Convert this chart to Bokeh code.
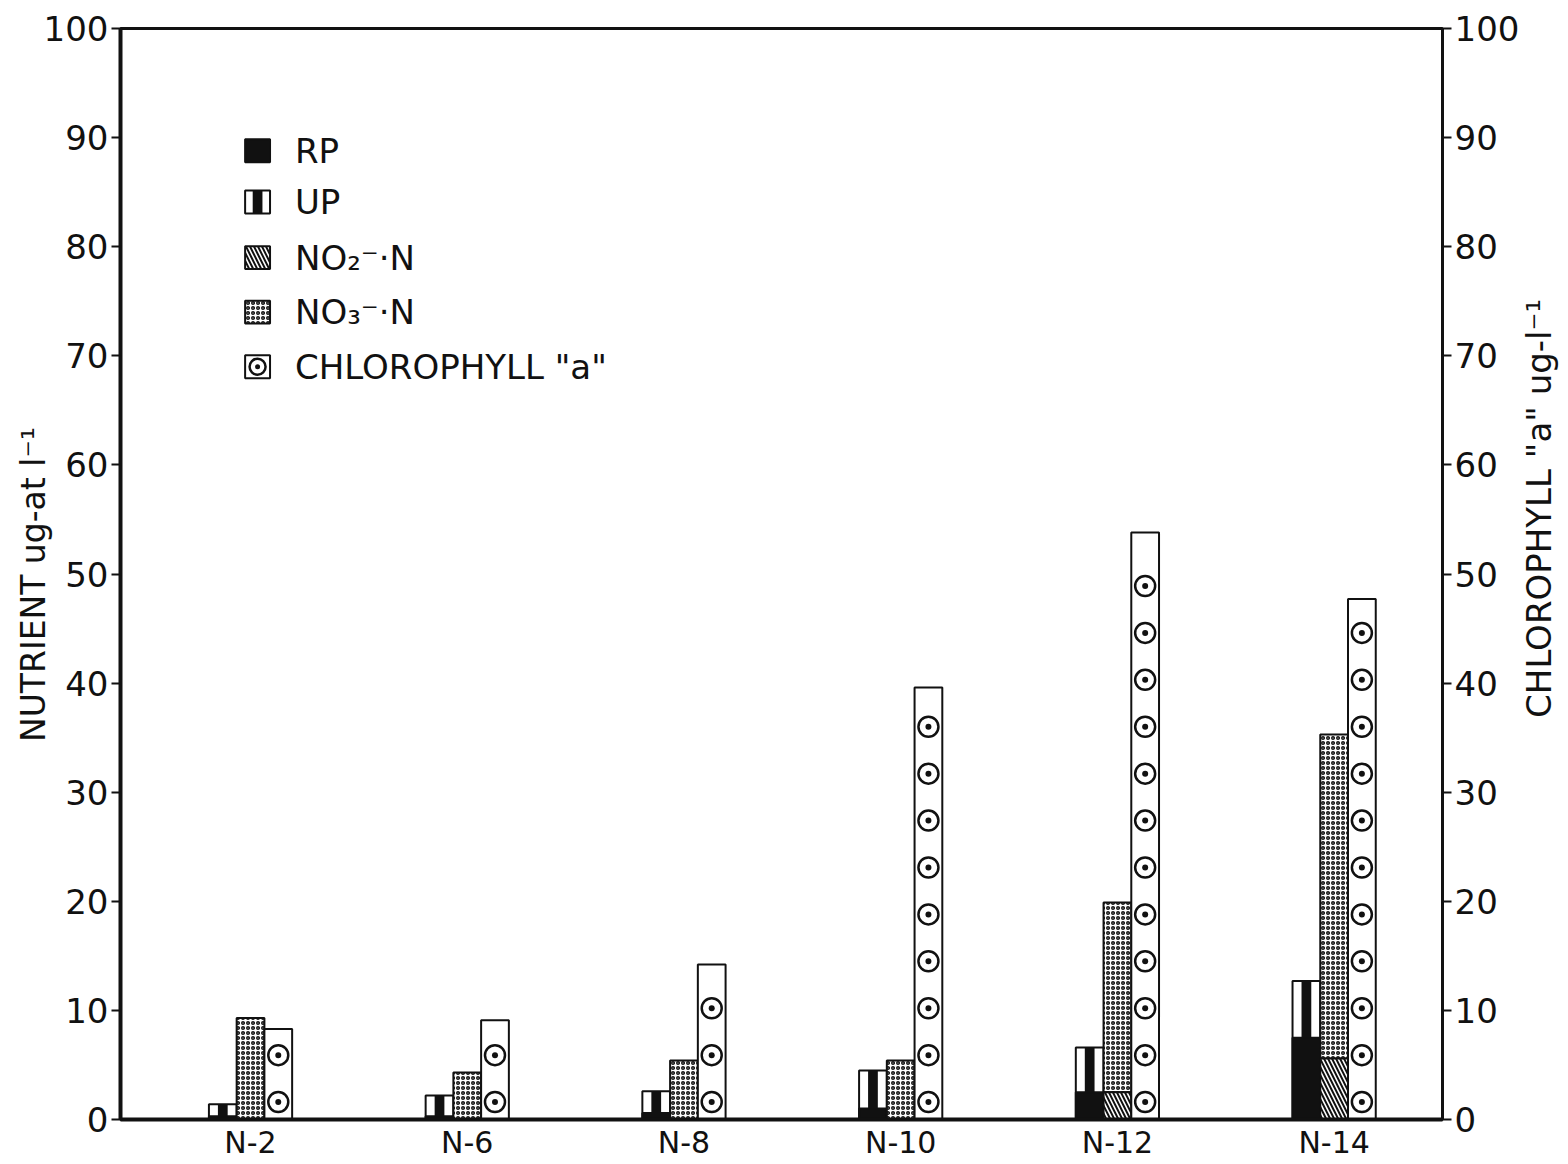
import math
from bokeh.plotting import figure
from bokeh.models import Range1d, LinearAxis, FixedTicker, Label
from bokeh.core.properties import value
from bokeh.embed import file_html
from bokeh.resources import INLINE

# ---------------- data ----------------
stations = ["N-2", "N-6", "N-8", "N-10", "N-12", "N-14"]
rp = [0.3, 0.3, 0.6, 1.0, 2.5, 7.5]          # reactive phosphorus (black, bottom of P bar)
up = [1.1, 1.9, 2.0, 3.5, 4.1, 5.2]          # unreactive phosphorus (striped, on top of RP)
no2 = [0.0, 0.0, 0.0, 0.0, 2.5, 5.6]         # NO2-N (hatched, bottom of N bar)
no3 = [9.3, 4.3, 5.4, 5.4, 17.4, 29.7]       # NO3-N (stippled, on top of NO2)
chl = [8.3, 9.1, 14.2, 39.6, 53.8, 47.7]     # chlorophyll "a" (right axis)
y_ticks = [0, 10, 20, 30, 40, 50, 60, 70, 80, 90, 100]
legend_labels = ["RP", "UP", "NO\u2082\u207b\u00b7N", "NO\u2083\u207b\u00b7N", 'CHLOROPHYLL  "a"']
left_title = "NUTRIENT   ug-at l\u207b\u00b9"
right_title = 'CHLOROPHYLL  "a"   ug-l\u207b\u00b9'

# ---------------- style ----------------
FONT = "DejaVu Sans"
BW = 0.128            # bar width (x units)
STRIPE_W = 0.045
MARK_START, MARK_STEP = 1.6, 4.3
INK = "#111111"
X0, X1 = -0.6, 5.5

xs = list(range(len(stations)))
p_top = [r + u for r, u in zip(rp, up)]
n_top = [a + b for a, b in zip(no2, no3)]

p = figure(width=1562, height=1162, x_range=Range1d(X0, X1), y_range=Range1d(0, 100),
           output_backend="svg", toolbar_location=None,
           min_border_left=120, min_border_right=117, min_border_top=28, min_border_bottom=42)
p.extra_y_ranges = {"chl": Range1d(0, 100)}
p.xgrid.visible = False
p.ygrid.visible = False
p.outline_line_color = INK
p.outline_line_width = 3
p.background_fill_color = "white"
p.border_fill_color = "white"

# x axis
xa = p.xaxis[0]
xa.ticker = FixedTicker(ticks=xs)
xa.major_label_overrides = {i: s for i, s in zip(xs, stations)}
xa.axis_line_width = 4
xa.axis_line_color = INK
xa.major_tick_line_color = None
xa.major_tick_out = 0
xa.major_tick_in = 0
xa.minor_tick_line_color = None
xa.major_label_standoff = 5
xa.major_label_text_font = FONT
xa.major_label_text_font_size = "30px"
xa.major_label_text_color = INK


def style_y(ax, lw):
    ax.ticker = FixedTicker(ticks=y_ticks)
    ax.minor_tick_line_color = None
    ax.major_tick_out = 9
    ax.major_tick_in = 0
    ax.major_tick_line_width = 2
    ax.major_tick_line_color = INK
    ax.axis_line_width = lw
    ax.axis_line_color = INK
    ax.major_label_standoff = 3
    ax.major_label_text_font = FONT
    ax.major_label_text_font_size = "34px"
    ax.major_label_text_color = INK


ya = p.yaxis[0]
style_y(ya, 4)
ya.axis_label = left_title
ya.axis_label_text_font = FONT
ya.axis_label_text_font_size = "33px"
ya.axis_label_text_font_style = "normal"
ya.axis_label_text_color = INK
ya.axis_label_standoff = -12

ra = LinearAxis(y_range_name="chl")
style_y(ra, 3)
p.add_layout(ra, "right")

# right-hand title, reading bottom-to-top and sitting a little above centre as in the original
p.add_layout(Label(x=X1, y=57.5, x_offset=96, y_range_name="chl", text=right_title,
                   angle=math.pi / 2, text_align="center", text_baseline="middle",
                   text_font=FONT, text_font_size="34px", text_color=INK), "right")

# ---------------- bars ----------------
x_p = [x - BW for x in xs]
x_n = list(xs)
x_c = [x + BW for x in xs]

# phosphorus bar: outline box, RP black bottom, UP white with black centre stripe
p.vbar(x=x_p, width=BW, bottom=0, top=p_top, fill_color="white", line_color=INK, line_width=2)
p.vbar(x=x_p, width=BW, bottom=0, top=rp, fill_color=INK, line_color=INK, line_width=2)
p.vbar(x=x_p, width=STRIPE_W, bottom=rp, top=p_top, fill_color=INK, line_color=None)

# nitrogen bar: NO2 hatched bottom, NO3 stippled top
p.vbar(x=x_n, width=BW, bottom=no2, top=n_top, fill_color="white", line_color=INK, line_width=2,
       hatch_pattern="ring", hatch_scale=5, hatch_weight=1.5, hatch_color=INK)
p.vbar(x=x_n, width=BW, bottom=0, top=no2, fill_color="white", line_color=INK, line_width=2,
       hatch_pattern="left_diagonal_line", hatch_scale=8, hatch_weight=2, hatch_color=INK)

# chlorophyll bar with circle-dot pattern
p.vbar(x=x_c, width=BW, bottom=0, top=chl, fill_color="white", line_color=INK, line_width=2,
       y_range_name="chl")
cx, cy = [], []
for xc, c in zip(x_c, chl):
    y = MARK_START
    while y <= c - 1.2:
        cx.append(xc)
        cy.append(y)
        y += MARK_STEP
p.scatter(x=cx, y=cy, size=20, marker="circle", fill_color=None, line_color=INK, line_width=2.5,
          y_range_name="chl")
p.scatter(x=cx, y=cy, size=6, marker="circle", fill_color=INK, line_color=None, y_range_name="chl")

# ---------------- legend (drawn by hand) ----------------
LEG_X0, LEG_W = -0.025, 0.115
LEG_H = 2.1
LEG_Y = [88.8, 84.1, 79.0, 74.0, 69.0]
LEG_TX = 0.205
lx = LEG_X0 + LEG_W / 2


def sw(i, **kw):
    p.quad(left=[LEG_X0], right=[LEG_X0 + LEG_W], bottom=[LEG_Y[i] - LEG_H / 2],
           top=[LEG_Y[i] + LEG_H / 2], line_color=INK, line_width=2, **kw)


sw(0, fill_color=INK)
sw(1, fill_color="white")
p.quad(left=[lx - STRIPE_W / 2], right=[lx + STRIPE_W / 2], bottom=[LEG_Y[1] - LEG_H / 2],
       top=[LEG_Y[1] + LEG_H / 2], fill_color=INK, line_color=None)
sw(2, fill_color="white", hatch_pattern="left_diagonal_line", hatch_scale=8, hatch_weight=2,
   hatch_color=INK)
sw(3, fill_color="white", hatch_pattern="ring", hatch_scale=5, hatch_weight=1.5, hatch_color=INK)
sw(4, fill_color="white")
p.scatter(x=[lx], y=[LEG_Y[4]], size=16, marker="circle", fill_color=None, line_color=INK,
          line_width=2.5)
p.scatter(x=[lx], y=[LEG_Y[4]], size=5, marker="circle", fill_color=INK, line_color=None)

p.text(x=[LEG_TX] * len(legend_labels), y=LEG_Y, text=legend_labels,
       text_font=value(FONT), text_font_size=value("34px"), text_color=INK,
       text_baseline="middle", text_align="left")

open("out.html", "w").write(file_html(p, INLINE))
